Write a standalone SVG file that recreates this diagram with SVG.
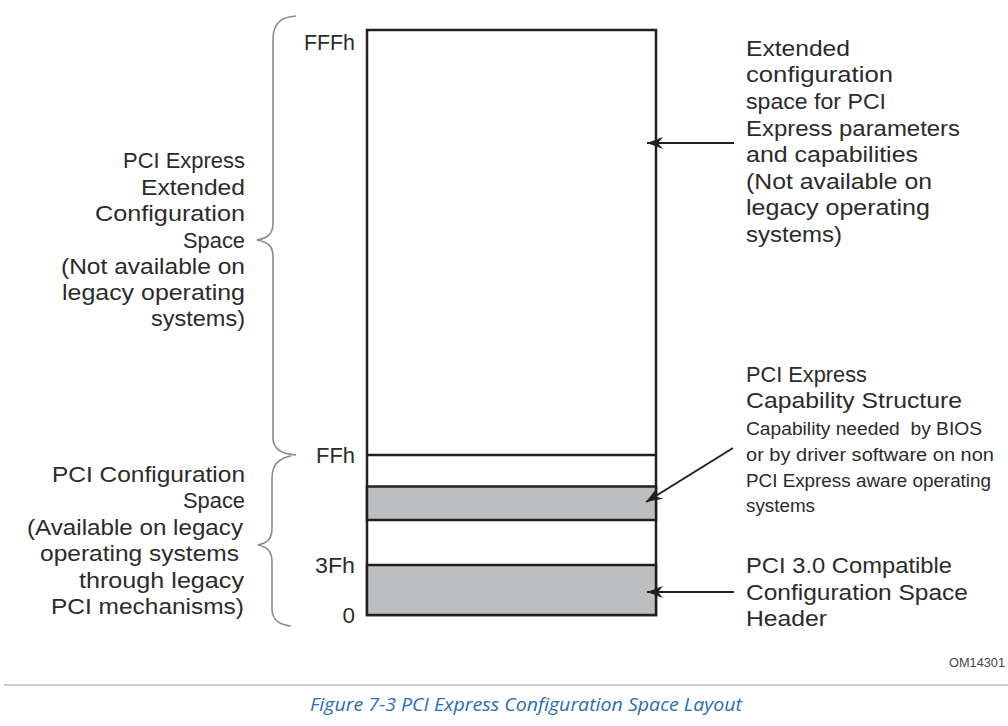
<svg xmlns="http://www.w3.org/2000/svg" width="1008" height="726" viewBox="0 0 1008 726">
<style>
.t{font-family:"Liberation Sans",Arial,sans-serif;font-size:22.5px;fill:#2b2b2b}
.r{text-anchor:end}
.s{font-family:"Liberation Sans",Arial,sans-serif;font-size:17.5px;fill:#2b2b2b}
.box{stroke:#231f20;stroke-width:2.5}
.brace{fill:none;stroke:#8a8a8a;stroke-width:1.6}
.conn{stroke:#231f20;stroke-width:2;fill:none}
</style>
<defs>
<marker id="ah" viewBox="-17 -7 18 14" refX="0" refY="0" markerWidth="18" markerHeight="14" markerUnits="userSpaceOnUse" orient="auto">
<path d="M0,0 L-16,-6 L-11,0 L-16,6 Z" fill="#231f20"/>
</marker>
</defs>
<rect width="1008" height="726" fill="#fff"/>

<g id="memory-map">
<rect x="367" y="30" width="289" height="585" fill="#fff" class="box"/>
<rect x="367" y="486.5" width="289" height="33.5" fill="#bcbec0" class="box"/>
<rect x="367" y="565" width="289" height="50" fill="#bcbec0" class="box"/>
<line x1="367" y1="455" x2="656" y2="455" class="box"/>
</g>

<g id="offset-labels">
<text class="t r" x="355" y="50" textLength="51" lengthAdjust="spacingAndGlyphs">FFFh</text>
<text class="t r" x="355" y="463" textLength="39" lengthAdjust="spacingAndGlyphs">FFh</text>
<text class="t r" x="355" y="573" textLength="40" lengthAdjust="spacingAndGlyphs">3Fh</text>
<text class="t r" x="355" y="623">0</text>
</g>

<g id="extended-space-brace">
<path class="brace" d="M296 16 C281 17,273 23,273 40 L273 223 C273 234,268 238,257 240 C268 242,273 246,273 257 L273 438 C273 449,281 454,296 455"/>
<text class="t r" x="245" y="168" textLength="122" lengthAdjust="spacingAndGlyphs">PCI Express</text>
<text class="t r" x="245" y="195" textLength="104" lengthAdjust="spacingAndGlyphs">Extended</text>
<text class="t r" x="245" y="221" textLength="150" lengthAdjust="spacingAndGlyphs">Configuration</text>
<text class="t r" x="245" y="248" textLength="62" lengthAdjust="spacingAndGlyphs">Space</text>
<text class="t r" x="245" y="274" textLength="184" lengthAdjust="spacingAndGlyphs">(Not available on</text>
<text class="t r" x="245" y="300" textLength="183" lengthAdjust="spacingAndGlyphs">legacy operating</text>
<text class="t r" x="245" y="326" textLength="94" lengthAdjust="spacingAndGlyphs">systems)</text>
</g>

<g id="pci-space-brace">
<path class="brace" d="M291 456 C279 458,272 464,272 478 L272 528 C272 538,268 543,258 545 C268 547,272 552,272 562 L272 609 C272 619,279 625,291 626"/>
<text class="t r" x="245" y="482" textLength="193" lengthAdjust="spacingAndGlyphs">PCI Configuration</text>
<text class="t r" x="245" y="508" textLength="62" lengthAdjust="spacingAndGlyphs">Space</text>
<text class="t r" x="243" y="535" textLength="216" lengthAdjust="spacingAndGlyphs">(Available on legacy</text>
<text class="t r" x="239" y="561" textLength="199" lengthAdjust="spacingAndGlyphs">operating systems</text>
<text class="t r" x="244" y="588" textLength="165" lengthAdjust="spacingAndGlyphs">through legacy</text>
<text class="t r" x="244" y="614" textLength="193" lengthAdjust="spacingAndGlyphs">PCI mechanisms)</text>
</g>

<g id="extended-desc">
<text class="t" x="746" y="56" textLength="104" lengthAdjust="spacingAndGlyphs">Extended</text>
<text class="t" x="746" y="82" textLength="147" lengthAdjust="spacingAndGlyphs">configuration</text>
<text class="t" x="746" y="109" textLength="140" lengthAdjust="spacingAndGlyphs">space for PCI</text>
<text class="t" x="746" y="136" textLength="214" lengthAdjust="spacingAndGlyphs">Express parameters</text>
<text class="t" x="746" y="162" textLength="172" lengthAdjust="spacingAndGlyphs">and capabilities</text>
<text class="t" x="746" y="189" textLength="186" lengthAdjust="spacingAndGlyphs">(Not available on</text>
<text class="t" x="746" y="215" textLength="184" lengthAdjust="spacingAndGlyphs">legacy operating</text>
<text class="t" x="746" y="242" textLength="96" lengthAdjust="spacingAndGlyphs">systems)</text>
</g>

<g id="capability-desc">
<text class="t" x="746" y="382" textLength="121" lengthAdjust="spacingAndGlyphs">PCI Express</text>
<text class="t" x="746" y="408" textLength="216" lengthAdjust="spacingAndGlyphs">Capability Structure</text>
<text class="s" x="746" y="435" textLength="236" lengthAdjust="spacingAndGlyphs" xml:space="preserve">Capability needed  by BIOS</text>
<text class="s" x="746" y="461" textLength="248" lengthAdjust="spacingAndGlyphs">or by driver software on non</text>
<text class="s" x="746" y="487" textLength="245" lengthAdjust="spacingAndGlyphs">PCI Express aware operating</text>
<text class="s" x="746" y="512" textLength="69" lengthAdjust="spacingAndGlyphs">systems</text>
</g>

<g id="header-desc">
<text class="t" x="746" y="573" textLength="206" lengthAdjust="spacingAndGlyphs">PCI 3.0 Compatible</text>
<text class="t" x="746" y="600" textLength="222" lengthAdjust="spacingAndGlyphs">Configuration Space</text>
<text class="t" x="746" y="626" textLength="81" lengthAdjust="spacingAndGlyphs">Header</text>
</g>

<g id="connectors">
<line class="conn" x1="734" y1="143" x2="647" y2="143" marker-end="url(#ah)"/>
<line class="conn" x1="733" y1="448" x2="646" y2="502" marker-end="url(#ah)"/>
<line class="conn" x1="734" y1="592" x2="647" y2="592" marker-end="url(#ah)"/>
</g>

<text x="1005" y="667" text-anchor="end" font-family="Liberation Sans, Arial, sans-serif" font-size="12" fill="#444" textLength="56" lengthAdjust="spacingAndGlyphs">OM14301</text>
<line x1="4" y1="685" x2="1008" y2="685" stroke="#cfcfcf" stroke-width="2"/>
<text x="526" y="711" text-anchor="middle" font-family="Open Sans, Noto Sans, sans-serif" font-style="italic" font-size="19" fill="#2a6db5" textLength="432" lengthAdjust="spacingAndGlyphs">Figure  7-3  PCI Express Configuration Space Layout</text>
</svg>
